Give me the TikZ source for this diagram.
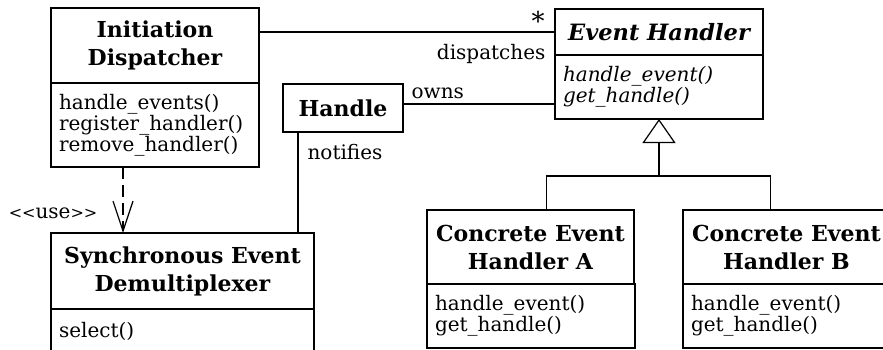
\documentclass[tikz,border=0pt]{standalone}
\usepackage{fontspec}
\setmainfont{DejaVu Serif}
\usetikzlibrary{arrows.meta}

\begin{document}
\begin{tikzpicture}[x=1pt,y=-1pt,
    line width=1.2pt,
    box/.style={draw, rectangle, inner sep=0pt, outer sep=0pt},
    titlebox/.style={box, align=center,
      font=\bfseries\fontsize{22}{28}\selectfont},
    opsbox/.style={box, align=left, inner xsep=8pt, text width=192pt,
      font=\fontsize{20}{21}\selectfont},
    lbl/.style={inner sep=0pt, font=\fontsize{20}{21}\selectfont},
  ]
  \useasboundingbox (0,0) rectangle (883,350);
  \clip (0,0) rectangle (883,350);

  % Initiation Dispatcher
  \node[titlebox, minimum width=208pt, minimum height=75pt, anchor=north west]
    (disp) at (51,8) {Initiation\\Dispatcher};
  \node[opsbox, minimum width=208pt, minimum height=84pt, anchor=north west]
    (dispops) at (disp.south west)
    {handle\_events()\\register\_handler()\\remove\_handler()};

  % Event Handler (abstract)
  \node[titlebox, minimum width=208pt, minimum height=46pt, anchor=north west,
        font=\bfseries\itshape\fontsize{22.5}{28}\selectfont]
    (eh) at (555,9) {Event Handler};
  \node[opsbox, minimum width=208pt, minimum height=64pt, anchor=north west,
        font=\itshape\fontsize{20}{21}\selectfont]
    (ehops) at (eh.south west) {handle\_event()\\get\_handle()};

  % Handle
  \node[titlebox, minimum width=120pt, minimum height=48pt, anchor=north west]
    (handle) at (283,84) {Handle};

  % Synchronous Event Demultiplexer
  \node[titlebox, minimum width=263pt, minimum height=76pt, anchor=north west]
    (demux) at (51,233) {Synchronous Event\\Demultiplexer};
  \node[opsbox, text width=247pt, minimum width=263pt, minimum height=45pt,
        anchor=north west]
    (demuxops) at (demux.south west) {select()};

  % Concrete Event Handler A
  \node[titlebox, minimum width=207pt, minimum height=74pt, anchor=north west]
    (ca) at (427,210) {Concrete Event\\Handler A};
  \node[opsbox, minimum width=207pt, minimum height=64pt, anchor=north west]
    (caops) at (ca.south west) {handle\_event()\\get\_handle()};

  % Concrete Event Handler B
  \node[titlebox, minimum width=207pt, minimum height=74pt, anchor=north west]
    (cb) at (683,210) {Concrete Event\\Handler B};
  \node[opsbox, minimum width=207pt, minimum height=64pt, anchor=north west]
    (cbops) at (cb.south west) {handle\_event()\\get\_handle()};

  % dispatches association
  \draw (eh.west -| disp.east) -- (eh.west);
  \node[inner sep=0pt, font=\fontsize{26}{26}\selectfont] (star)
    at ([xshift=-17pt,yshift=11pt]eh.west) {*};
  \node[lbl, anchor=north east] (dispatches) at ([xshift=-9pt,yshift=-12pt]eh.west) {dispatches};

  % owns association
  \draw ([yshift=4pt]handle.east) coordinate (o1) -- (o1 -| ehops.west);
  \node[lbl, anchor=south west] (owns) at ([xshift=8pt,yshift=5pt]o1) {owns};

  % notifies association
  \draw ([xshift=15pt]handle.south west) coordinate (n1) -- (n1 |- demux.north);
  \node[lbl, anchor=north west] (notifies) at ([xshift=9pt,yshift=-12pt]n1) {notifies};

  % <<use>> dependency
  \draw[dash pattern=on 12pt off 6pt,
        -{Straight Barb[length=30pt,width=20pt,line width=1.2pt]}]
    ([xshift=72pt]dispops.south west) coordinate (u1) -- (u1 |- demux.north);
  \node[lbl, anchor=east] (use) at (98,213)
    {{\fontsize{16}{16}\selectfont<\kern0pt<}use{\fontsize{16}{16}\selectfont>\kern0pt>}};

  % generalization
  \coordinate (j) at (ehops.south |- 0,176);
  \draw[-{Triangle[open,length=24pt,width=33pt,line width=1.2pt]}] (j) -- (ehops.south);
  \draw ([xshift=16pt]ca.north) |- (j) -| ([xshift=-16pt]cb.north);
\end{tikzpicture}
\end{document}
